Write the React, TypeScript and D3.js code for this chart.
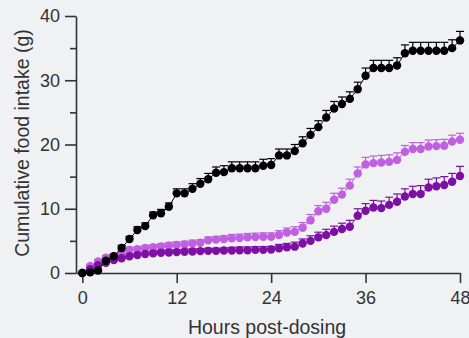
import { useEffect, useRef } from 'react';
import * as d3 from 'd3';

// hourly readings, 0-48 h
const hours = [
  0, 1, 2, 3, 4, 5, 6, 7, 8, 9, 10, 11, 12, 13, 14, 15, 16, 17, 18, 19, 20, 21, 22, 23, 24,
  25, 26, 27, 28, 29, 30, 31, 32, 33, 34, 35, 36, 37, 38, 39, 40, 41, 42, 43, 44, 45, 46, 47, 48,
];

const blackMean = [
  0, 0.1, 0.4, 1.9, 2.6, 3.9, 5.3, 6.7, 7.3, 9.0, 9.3, 10.3, 12.4, 12.4, 13.1, 13.9, 14.6, 15.6,
  15.7, 16.3, 16.3, 16.3, 16.3, 16.7, 16.8, 18.3, 18.3, 19.0, 20.2, 21.5, 22.7, 24.2, 25.6, 26.3,
  27.1, 28.6, 30.7, 31.9, 31.9, 31.9, 32.3, 34.2, 34.6, 34.6, 34.6, 34.6, 34.6, 35.0, 36.2,
];
const blackErr = [
  0.1, 0.2, 0.2, 0.3, 0.3, 0.4, 0.4, 0.5, 0.5, 0.5, 0.6, 0.6, 0.7, 0.7, 0.8, 0.8, 0.9, 0.9, 1.0,
  1.0, 1.0, 1.0, 1.0, 1.0, 1.0, 1.0, 1.0, 1.0, 1.0, 1.0, 1.0, 1.1, 1.1, 1.1, 1.1, 1.1, 1.2, 1.2,
  1.2, 1.2, 1.2, 1.3, 1.3, 1.3, 1.3, 1.3, 1.3, 1.3, 1.4,
];

const lightMean = [
  0, 1.1, 1.8, 2.4, 2.6, 3.2, 3.6, 3.7, 3.9, 4.0, 4.15, 4.25, 4.35, 4.45, 4.6, 4.7, 5.1, 5.2, 5.3,
  5.4, 5.45, 5.55, 5.6, 5.65, 5.65, 5.9, 6.3, 6.4, 7.05, 8.2, 9.6, 10.0, 11.4, 12.2, 13.6, 15.5,
  16.9, 17.1, 17.2, 17.3, 17.6, 18.85, 19.3, 19.3, 19.7, 19.75, 19.8, 20.45, 20.75,
];
const lightErr = [
  0.1, 0.2, 0.3, 0.3, 0.3, 0.4, 0.4, 0.4, 0.4, 0.4, 0.4, 0.5, 0.5, 0.5, 0.5, 0.5, 0.5, 0.5, 0.5,
  0.6, 0.6, 0.6, 0.6, 0.6, 0.6, 0.7, 0.7, 0.8, 0.8, 0.9, 0.9, 1.0, 1.0, 1.0, 1.0, 1.0, 1.1, 1.1,
  1.1, 1.1, 1.1, 1.0, 1.0, 1.0, 1.0, 1.0, 1.0, 1.0, 1.0,
];

const darkMean = [
  0, 0.6, 1.2, 1.6, 2.0, 2.3, 2.6, 2.8, 2.95, 3.05, 3.15, 3.2, 3.25, 3.3, 3.35, 3.4, 3.45, 3.45,
  3.5, 3.5, 3.55, 3.55, 3.6, 3.6, 3.65, 3.85, 4.0, 4.1, 4.6, 5.0, 5.55, 5.9, 6.4, 6.85, 7.2, 8.9,
  9.7, 10.2, 10.1, 10.6, 11.1, 11.9, 12.3, 12.3, 13.3, 13.5, 13.7, 14.2, 15.1,
];
const darkErr = [
  0.1, 0.2, 0.2, 0.3, 0.3, 0.3, 0.3, 0.3, 0.3, 0.4, 0.4, 0.4, 0.4, 0.4, 0.4, 0.4, 0.4, 0.4, 0.4,
  0.5, 0.5, 0.5, 0.5, 0.5, 0.5, 0.6, 0.6, 0.7, 0.7, 0.8, 0.8, 0.9, 0.9, 0.9, 1.0, 1.1, 1.1, 1.1,
  1.1, 1.2, 1.2, 1.2, 1.2, 1.3, 1.3, 1.3, 1.3, 1.3, 1.5,
];

const yMajor = [0, 10, 20, 30, 40];
const yMinor = [5, 15, 25, 35];
const xTicks = [0, 12, 24, 36, 48];

const series = [
  { mean: lightMean, err: lightErr, color: '#c060e0' },
  { mean: darkMean, err: darkErr, color: '#7d0fa5' },
  { mean: blackMean, err: blackErr, color: '#000000' },
];

const W = 469;
const H = 338;
const font = '"Liberation Sans", Arial, sans-serif';
const ink = '#333';

export default function App() {
  const svgRef = useRef<SVGSVGElement>(null);

  useEffect(() => {
    document.body.style.margin = '0';
    document.body.style.background = '#f0f1f3';
    if (!svgRef.current) return;

    const svg = d3.select(svgRef.current);
    svg.selectAll('*').remove();

    const x = d3.scaleLinear().domain([-0.8, 48]).range([76, 460]);
    const y = d3.scaleLinear().domain([0, 40]).range([273, 16]);

    svg.append('rect').attr('width', W).attr('height', H).attr('fill', '#f0f1f3');

    // y axis
    const yAxis = svg.append('g')
      .attr('transform', `translate(${x(-0.8)},0)`)
      .call(d3.axisLeft(y).tickValues(yMajor).tickSize(11).tickSizeOuter(0).tickPadding(5));
    svg.append('g')
      .attr('transform', `translate(${x(-0.8)},0)`)
      .call(d3.axisLeft(y).tickValues(yMinor).tickSize(6).tickFormat(() => ''))
      .call(g => g.select('.domain').remove());

    // x axis
    const xAxis = svg.append('g')
      .attr('transform', `translate(0,${y(0)})`)
      .call(d3.axisBottom(x).tickValues(xTicks).tickSize(10).tickSizeOuter(0).tickPadding(8));

    svg.selectAll('.domain, .tick line')
      .attr('stroke', ink)
      .attr('stroke-width', 1.6);
    [xAxis, yAxis].forEach(a => a.selectAll('text')
      .attr('fill', ink)
      .style('font-family', font)
      .style('font-size', '18px'));

    const line = d3.line<number>()
      .x((_d, i) => x(hours[i]))
      .y(d => y(d));

    series.forEach(s => {
      const g = svg.append('g');
      g.append('path')
        .datum(s.mean)
        .attr('fill', 'none')
        .attr('stroke', s.color)
        .attr('stroke-width', 1)
        .attr('d', line);

      const bars = g.selectAll('.err')
        .data(s.mean)
        .enter().append('g')
        .attr('class', 'err');
      bars.append('line')
        .attr('x1', (_d, i) => x(hours[i]))
        .attr('x2', (_d, i) => x(hours[i]))
        .attr('y1', d => y(d))
        .attr('y2', (d, i) => y(d + s.err[i]))
        .attr('stroke', s.color)
        .attr('stroke-width', 1.2);
      bars.append('line')
        .attr('x1', (_d, i) => x(hours[i]) - 4)
        .attr('x2', (_d, i) => x(hours[i]) + 4)
        .attr('y1', (d, i) => y(d + s.err[i]))
        .attr('y2', (d, i) => y(d + s.err[i]))
        .attr('stroke', s.color)
        .attr('stroke-width', 1.2);

      g.selectAll('circle')
        .data(s.mean)
        .enter().append('circle')
        .attr('cx', (_d, i) => x(hours[i]))
        .attr('cy', d => y(d))
        .attr('r', 4.2)
        .attr('fill', s.color);
    });

    svg.append('text')
      .attr('x', 267)
      .attr('y', 334)
      .attr('text-anchor', 'middle')
      .attr('fill', ink)
      .style('font-family', font)
      .style('font-size', '19.5px')
      .text('Hours post-dosing');

    svg.append('text')
      .attr('transform', `translate(29,143) rotate(-90)`)
      .attr('text-anchor', 'middle')
      .attr('fill', ink)
      .style('font-family', font)
      .style('font-size', '19.5px')
      .text('Cumulative food intake (g)');
  }, []);

  return <svg ref={svgRef} width={W} height={H} style={{ display: 'block' }} />;
}
